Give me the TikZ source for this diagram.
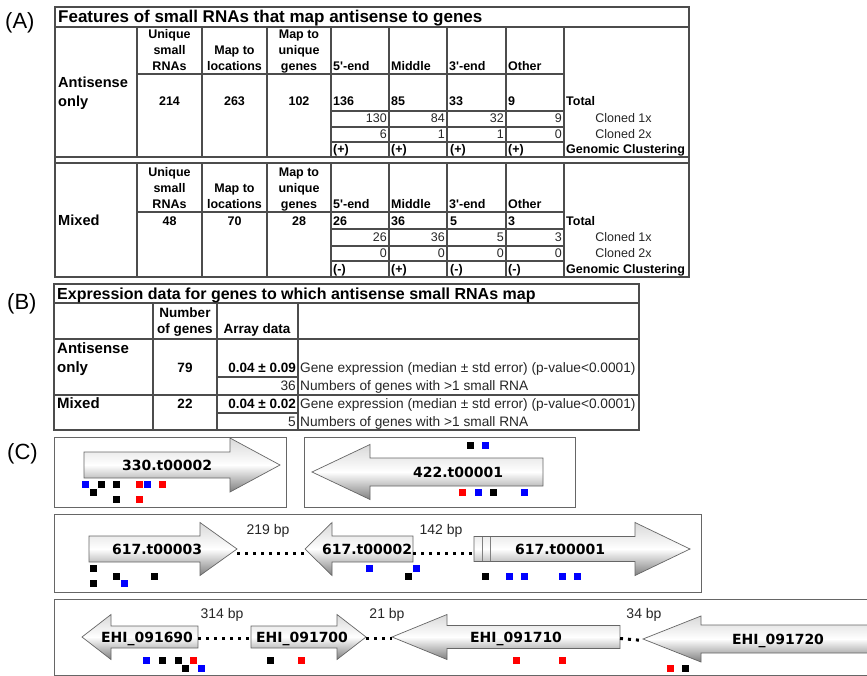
\documentclass[tikz,border=0pt]{standalone}
\usepackage{fontspec}
\setmainfont{Liberation Sans}[Ligatures=TeXOff]
\newfontfamily\genefont{DejaVu Sans}
\usetikzlibrary{arrows}

\tikzset{
  tline/.style={draw=black!70, line width=1.1pt},
  cbox/.style={draw=black!60, line width=0.8pt},
  ttl/.style={font=\fontsize{17}{19}\selectfont\bfseries, anchor=base west, inner sep=0pt},
  panel/.style={font=\fontsize{22}{24}\selectfont, anchor=base west, inner sep=0pt},
  rowlab/.style={font=\fontsize{14.6}{16}\selectfont\bfseries, anchor=base west, inner sep=0pt},
  hdr/.style={font=\fontsize{12.5}{14}\selectfont\bfseries, anchor=base, inner sep=0pt},
  rnum/.style={font=\fontsize{12.5}{14}\selectfont, text=black!85, anchor=base east, inner sep=0pt},
  txt/.style={font=\fontsize{12.5}{14}\selectfont, text=black!85, anchor=base, inner sep=0pt},
  btxt/.style={font=\fontsize{13.7}{15}\selectfont, text=black!85, anchor=base west, inner sep=0pt},
  bhdr/.style={font=\fontsize{13.5}{15}\selectfont\bfseries, anchor=base, inner sep=0pt},
  gname/.style={font=\genefont\fontsize{14}{16}\selectfont\bfseries, anchor=base, inner sep=0pt},
  bplab/.style={font=\fontsize{14}{16}\selectfont, text=black!85, anchor=base, inner sep=0pt},
  dotline/.style={line width=3pt, dash pattern=on 3pt off 5pt, black},
  genebody/.style={draw=black!60, line width=0.7pt, top color=black!15, bottom color=black!50, middle color=white}
}

% name, end x, head x, tip x, y, half body, half head, label x, label
\newcommand{\gene}[9]{%
  \shade[genebody] (#2,#5-#6) -- (#3,#5-#6) -- (#3,#5-#7) -- (#4,#5)
    -- (#3,#5+#7) -- (#3,#5+#6) -- (#2,#5+#6) -- cycle;
  \coordinate (#1-e) at (#2,#5);
  \coordinate (#1-t) at (#4,#5);
  \node[gname] (#1) at (#8,#5+5) {#9};
}

\begin{document}
\begin{tikzpicture}[x=1pt,y=-1pt]
\useasboundingbox (0,0) rectangle (867,676);

% ---------- (A) ----------
\node[panel] (pA) at (5,29) {(A)};
\draw[tline] (55,7) rectangle (689,277);
\draw[tline] (55,27) -- (689,27);
\draw[tline] (55,157) -- (689,157) (55,163) -- (689,163);
\foreach \x in {137,202,267,331,389,447,506,564} % column lines
  \draw[tline] (\x,27) -- (\x,157) (\x,163) -- (\x,277);
\draw[tline] (137,74) -- (564,74) (137,212) -- (564,212);
\foreach \y in {111,127,142,229,246,261} % count rows
  \draw[tline] (331,\y) -- (564,\y);
\node[ttl] (tA) at (58,23) {Features of small RNAs that map antisense to genes};

% header cells, same in both blocks
\foreach \dy/\blk in {0/a,138/b}{
  \node[hdr] (u1\blk) at (169.5,39+\dy) {Unique};
  \node[hdr] (u2\blk) at (169.5,55+\dy) {small};
  \node[hdr] (u3\blk) at (169.5,71+\dy) {RNAs};
  \node[hdr] (l1\blk) at (234.5,55+\dy) {Map to};
  \node[hdr] (l2\blk) at (234.5,71+\dy) {locations};
  \node[hdr] (g1\blk) at (299,39+\dy) {Map to};
  \node[hdr] (g2\blk) at (299,55+\dy) {unique};
  \node[hdr] (g3\blk) at (299,71+\dy) {genes};
  \foreach \x/\t [count=\i] in {333/5'-end,391/Middle,449/3'-end,508/Other}
    \node[hdr,anchor=base west] (p\i\blk) at (\x,71+\dy) {\t};
}

% antisense only
\node[rowlab] (as1) at (58,88) {Antisense};
\node[rowlab] (as2) at (58,107) {only};
\foreach \x/\v [count=\i] in {169.5/214,234.5/263,299/102}
  \node[hdr] (na\i) at (\x,106) {\v};
\foreach \x/\v [count=\i] in {333/136,391/85,449/33,508/9}
  \node[hdr,anchor=base west] (ta\i) at (\x,106) {\v};
\foreach \x/\v/\w [count=\i] in {387/130/6,445/84/1,504/32/1,562/9/0}{
  \node[rnum] (ca\i) at (\x,123) {\v};
  \node[rnum] (da\i) at (\x,139) {\w};
  \node[hdr,anchor=base west] (ka\i) at (\x-54,154) {(+)};
}
\node[hdr,anchor=base west] (tota) at (566,106) {Total};
\node[txt] (c1a) at (623.5,123) {Cloned 1x};
\node[txt] (c2a) at (623.5,139) {Cloned 2x};
\node[hdr,anchor=base west] (gca) at (566,154) {Genomic Clustering};

% mixed
\node[rowlab] (mx) at (58,226) {Mixed};
\foreach \x/\v [count=\i] in {169.5/48,234.5/70,299/28}
  \node[hdr] (nb\i) at (\x,226) {\v};
\foreach \x/\v/\z [count=\i] in {387/26/(-),445/36/(+),504/5/(-),562/3/(-)}{
  \node[hdr,anchor=base west] (tb\i) at (\x-54,226) {\v};
  \node[rnum] (cb\i) at (\x,242) {\v};
  \node[rnum] (db\i) at (\x,258) {0};
  \node[hdr,anchor=base west] (kb\i) at (\x-54,273) {\z};
}
\node[hdr,anchor=base west] (totb) at (566,226) {Total};
\node[txt] (c1b) at (623.5,242) {Cloned 1x};
\node[txt] (c2b) at (623.5,258) {Cloned 2x};
\node[hdr,anchor=base west] (gcb) at (566,273) {Genomic Clustering};

% ---------- (B) ----------
\node[panel] (pB) at (7,309) {(B)};
\draw[tline] (54,284) rectangle (639,430);
\draw[tline] (54,303) -- (639,303) (54,339) -- (639,339) (54,395) -- (639,395);
\foreach \x in {153,217,298}
  \draw[tline] (\x,303) -- (\x,430);
\draw[tline] (217,377) -- (298,377) (217,413) -- (298,413);
\node[ttl,font=\fontsize{16}{18}\selectfont\bfseries] (tB) at (57,299.5) {Expression data for genes to which antisense small RNAs map};
\node[bhdr] (ng1) at (185,317) {Number};
\node[bhdr] (ng2) at (185,333) {of genes};
\node[bhdr] (ad) at (257,333) {Array data};
\node[rowlab,font=\fontsize{15}{17}\selectfont\bfseries] (bas1) at (57,353) {Antisense};
\node[rowlab,font=\fontsize{15}{17}\selectfont\bfseries] (bas2) at (57,372) {only};
\node[rowlab,font=\fontsize{15}{17}\selectfont\bfseries] (bmx) at (57,408) {Mixed};
\foreach \y/\n/\m/\k [count=\i] in {372/79/0.04 ± 0.09/36,408/22/0.04 ± 0.02/5}{
  \node[bhdr] (bn\i) at (185,\y) {\n};
  \node[bhdr,anchor=base east] (bm\i) at (296,\y) {\m};
  \node[btxt] (be\i) at (300,\y) {Gene expression (median ± std error) (p-value<0.0001)};
  \node[btxt,anchor=base east] (bk\i) at (296,\y+18.5) {\k};
  \node[btxt] (bg\i) at (300,\y+18.5) {Numbers of genes with >1 small RNA};
}

% ---------- (C) ----------
\node[panel] (pC) at (7,459) {(C)};
\draw[cbox] (54,437) rectangle (286,507);
\draw[cbox] (304,437) rectangle (575,507);
\draw[cbox] (54,514) rectangle (701,592);
\draw[cbox] (54,599) -- (875,599) (54,675) -- (875,675) (54,599) -- (54,675);

\gene{g330}{84}{230}{280}{465}{13}{27}{167}{330.t00002}
\gene{g422}{543}{370}{312}{472}{14}{27.5}{458}{422.t00001}

\gene{g6173}{89}{200}{237}{549}{13}{26.5}{157}{617.t00003}
\gene{g6172}{413}{332}{305}{549}{13}{26.5}{367}{617.t00002}
\gene{g6171}{474}{635}{690}{549}{12.5}{26.5}{560}{617.t00001}
\draw[black!50] (482,537) -- (482,561) (490,537) -- (490,561);
\draw[dotline] ([yshift=-4pt]g6173-t) -- ([yshift=-4pt]g6172-t);
\draw[dotline] ([yshift=-4pt]g6172-e) -- ([yshift=-4pt]g6171-e);
\node[bplab] (bp219) at (268,534) {219 bp};
\node[bplab] (bp142) at (441,534) {142 bp};

\gene{e690}{198}{111}{82}{637}{11}{22.5}{147}{EHI\_091690}
\gene{e700}{251}{337}{366}{637}{11}{22.5}{302}{EHI\_091700}
\gene{e710}{620}{447}{392}{637}{11.5}{22.5}{516}{EHI\_091710}
\gene{e720}{880}{701}{643}{639}{14}{23}{778}{EHI\_091720}
\draw[dotline] ([yshift=-1.5pt]e690-e) -- ([yshift=-1.5pt]e700-e);
\draw[dotline] ([yshift=-1.5pt]e700-t) -- ([yshift=-1.5pt]e710-t);
\draw[dotline] ([yshift=-1.5pt]e710-e) -- ([yshift=-1.5pt]e720-t);
\node[bplab] (bp314) at (222,618) {314 bp};
\node[bplab] (bp21) at (387,618) {21 bp};
\node[bplab] (bp34) at (644,618) {34 bp};

% small RNA hits
\foreach \x/\y/\c in {85/484/blue,101/484/black,93/492/black,116/484/black,139/484/red,
    147/484/blue,162/484/red,116/499/black,139/499/red,
    470/445/black,485/445/blue,462/492/red,478/492/blue,493/492/black,524/492/blue,
    93/568/black,93/583/black,116/576/black,124/583/blue,154/576/black,
    369/568/blue,416/568/blue,408/576/black,
    485/576/black,509/576/blue,524/576/blue,562/576/blue,577/576/blue,
    146/660/blue,162/660/black,178/660/black,193/660/red,185/668/black,201/668/blue,
    270/660/black,301/660/red,516/660/red,562/660/red,670/668/red,685/668/black}
  \fill[\c] (\x-3.5,\y-3.5) rectangle ++(7,7);
\end{tikzpicture}
\end{document}
